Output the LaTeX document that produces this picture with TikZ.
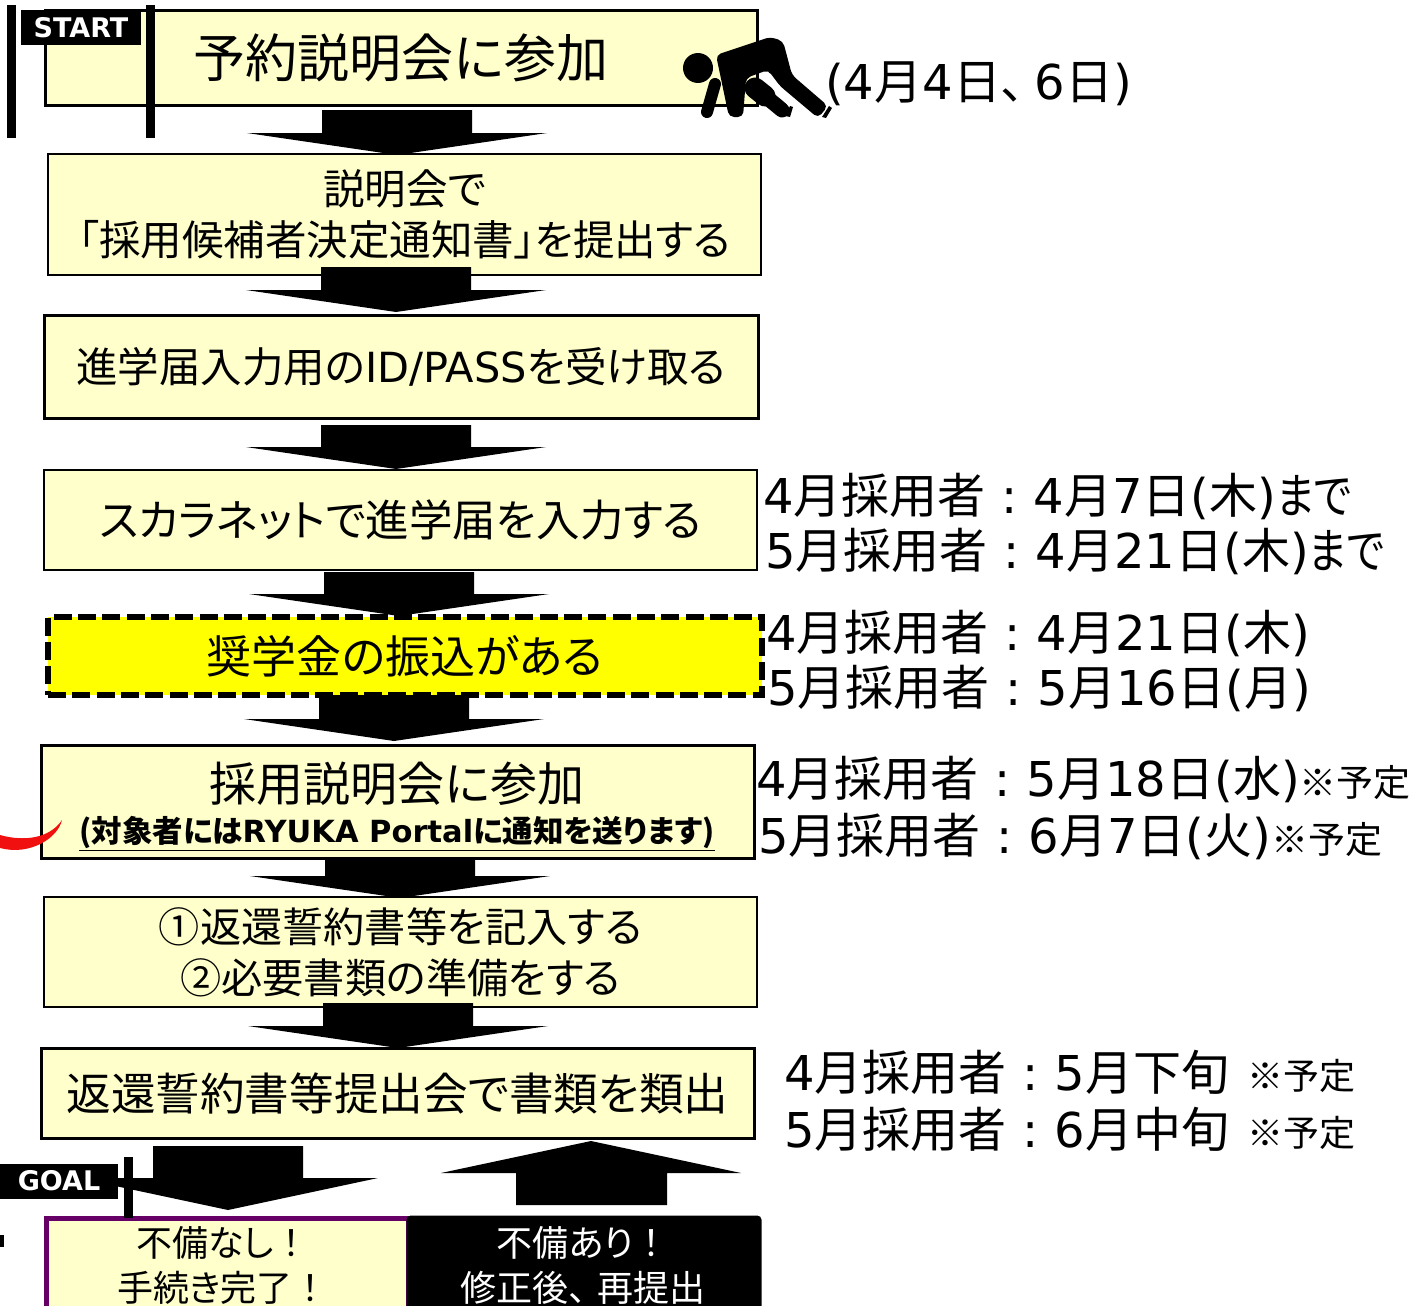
\documentclass[tikz,border=0pt]{standalone}
\usepackage{fontspec}
\usepackage{xcolor}
\usepackage{graphicx}
\setmainfont{Noto Sans CJK JP}[CharacterWidth=AlternateProportional]
\newfontfamily\latfont{DejaVu Sans}
\newcommand{\lat}[1]{{\latfont #1}}
\newcommand{\fs}[2]{\fontsize{#1}{#2}\selectfont}
\newcommand{\fw}[1]{\makebox[1em]{#1}}
\newcommand{\cln}{\makebox[1em]{\lat{:}}}
\newcommand{\dn}[1]{\raisebox{-2pt}{#1}}
\newcommand{\made}{\scalebox{.85}[1]{まで}}
\definecolor{boxbg}{HTML}{FFFFCC}
\definecolor{bright}{HTML}{FFFF00}
\definecolor{goalline}{HTML}{660066}
\definecolor{swoosh}{HTML}{F01010}
\newcommand{\arrowdown}[4]{% centre x, top y, head y, tip y
  \fill[black] (#1-75,#2) -- (#1+75,#2) -- (#1+75,#3) -- (#1+150,#3) -- (#1,#4) -- (#1-150,#3) -- (#1-75,#3) -- cycle;}
\tikzset{
  stepbox/.style={draw=black, fill=boxbg, line width=3pt, inner sep=0pt, outer sep=0pt, anchor=north west, align=center, text=black},
  thinbox/.style={stepbox, line width=2pt},
  side/.style={anchor=west, inner sep=0pt, text=black, font=\fs{48}{56}},
  flag/.style={fill=black, text=white, inner sep=0pt, font=\latfont\bfseries\fs{27}{30}},
  post/.style={line width=9pt, line cap=butt, draw=black}
}
\begin{document}
\begin{tikzpicture}[x=1pt,y=-1pt]
  \useasboundingbox (0,0) rectangle (1419,1306);

  % flow boxes
  \node[stepbox, minimum width=712pt, minimum height=94pt, font=\fs{52}{60}] (yoyaku) at (45,11) {\dn{予約説明会に参加}};
  \node[thinbox, minimum width=713pt, minimum height=121pt, font=\fs{41.5}{51}] (teishutsu) at (48,154) {\dn{説明会で}\\\dn{「採用候補者決定通知書」を提出する}};
  \node[stepbox, minimum width=714pt, minimum height=103pt, font=\fs{41.5}{48}] (idpass) at (44,315) {\dn{進学届入力用の\lat{ID/PASS}を受け取る}};
  \node[thinbox, minimum width=713pt, minimum height=100pt, font=\fs{43.5}{52}] (sukara) at (44,470) {\dn{スカラネットで進学届を入力する}};
  \node[stepbox, fill=bright, dash pattern=on 18pt off 6.3pt, line width=5.5pt, minimum width=714pt, minimum height=78pt, font=\fs{45}{52}] (furikomi) at (48,617) {\dn{奨学金の振込がある}};
  \node[stepbox, minimum width=713pt, minimum height=113pt] (saiyo) at (41,745) {};
  \node[inner sep=0pt, font=\fs{47}{54}] (saiyotxt) at (397,784) {採用説明会に参加};
  \node[inner sep=0pt, font=\bfseries\fs{30.5}{36}] (portal) at (397,834) {\underline{(対象者には\lat{RYUKA Portal}に通知を送ります)}};
  \node[thinbox, minimum width=713pt, minimum height=110pt, font=\fs{41.2}{51}] (kinyu) at (44,897) {\dn{①返還誓約書等を記入する}\\\dn{②必要書類の準備をする}};
  \node[stepbox, minimum width=713pt, minimum height=90pt, font=\fs{44.6}{52}] (kaishu) at (41,1048) {\dn{返還誓約書等提出会で書類を類出}};
  \node[stepbox, draw=goalline, line width=5pt, minimum width=362pt, minimum height=100pt] (fubinashi) at (46.5,1218.5) {};
  \node[inner sep=0pt, align=center, font=\fs{36}{45}] (nashitxt) at (223,1265) {不備なし\fw{！}\\手続き完了\fw{！}};
  \node[stepbox, fill=black, draw=black, rounded corners=3pt, minimum width=352pt, minimum height=100pt] (fubiari) at (408,1217) {};
  \node[inner sep=0pt, align=center, text=white, font=\fs{36}{45}] (aritxt) at (583,1265) {不備あり\fw{！}\\修正後\makebox[.8em][l]{、}再提出};

  % block arrows
  \arrowdown{397}{110}{133}{155}
  \arrowdown{396}{267}{290}{312}
  \arrowdown{396}{425}{447}{469}
  \arrowdown{399}{572}{594}{616}
  \arrowdown{394}{695}{719}{741}
  \arrowdown{400}{859}{876}{898}
  \arrowdown{398}{1003}{1026}{1048}
  \arrowdown{228}{1146}{1178}{1210}
  \fill[black] (516,1205) -- (667,1205) -- (667,1173) -- (741,1173) -- (591,1141) -- (441,1173) -- (516,1173) -- cycle;

  % start flag
  \draw[post] (11,5) -- (11,138);
  \draw[post] (150,5) -- (150,138);
  \node[flag, minimum width=120pt, minimum height=35pt] (start) at (81,28) {START};

  % goal flag
  \draw[post] (128,1157) -- (128,1218);
  \node[flag, minimum width=118pt, minimum height=35pt] (goal) at (59,1181) {GOAL};
  \fill[black] (0,1235) rectangle (4,1247);

  % runner
  \fill[black] (698,68) circle (15);
  \fill[black, rounded corners=5pt] (716,55) -- (770,37) -- (783,41) -- (792,75) -- (828,106) -- (818,118) -- (780,86) -- (768,70) -- (746,78) -- (743,117) -- (729,117) -- cycle;
  \draw[black, line width=12pt, line cap=round] (715,84) -- (707,112);
  \draw[black, line width=21pt, line cap=round] (755,88) -- (765,96);
  \draw[black, line width=15pt, line cap=round] (765,96) -- (782,110);
  \draw[white, line width=2.5pt] (767,72) -- (772,84) -- (790,106);
  \fill[black] (785,116) -- (790,106) -- (793,107) -- (790,117) -- cycle;
  \fill[black] (822,117) -- (829,106) -- (832,108) -- (826,118) -- cycle;

  % red swoosh
  \fill[swoosh] (0,835) .. controls (25,842) and (50,838) .. (62,820) .. controls (58,838) and (30,856) .. (0,848) -- cycle;

  % dates
  \node[side] (d1) at (825,84) {\lat{(4}月\lat{4}日、\hspace{.2em}\lat{6}日\lat{)}};
  \node[side] (d2) at (763,496) {\lat{4}月採用者\cln\lat{4}月\lat{7}日\lat{(}木\lat{)}\made};
  \node[side] (d3) at (765,551) {\lat{5}月採用者\cln\lat{4}月\lat{21}日\lat{(}木\lat{)}\made};
  \node[side] (d4) at (766,633) {\lat{4}月採用者\cln\lat{4}月\lat{21}日\lat{(}木\lat{)}};
  \node[side] (d5) at (767,688) {\lat{5}月採用者\cln\lat{5}月\lat{16}日\lat{(}月\lat{)}};
  \node[side] (d6) at (756,779) {\lat{4}月採用者\cln\lat{5}月\lat{18}日\lat{(}水\lat{)}{\fs{37}{40}※予定}};
  \node[side] (d7) at (758,836) {\lat{5}月採用者\cln\lat{6}月\lat{7}日\lat{(}火\lat{)}{\fs{37}{40}※予定}};
  \node[side] (d8) at (784,1072) {\lat{4}月採用者\cln\lat{5}月下旬};
  \node[side, font=\fs{36}{42}] (y8) at (1247,1076) {※予定};
  \node[side] (d9) at (784,1129) {\lat{5}月採用者\cln\lat{6}月中旬};
  \node[side, font=\fs{36}{42}] (y9) at (1247,1133) {※予定};
\end{tikzpicture}
\end{document}
